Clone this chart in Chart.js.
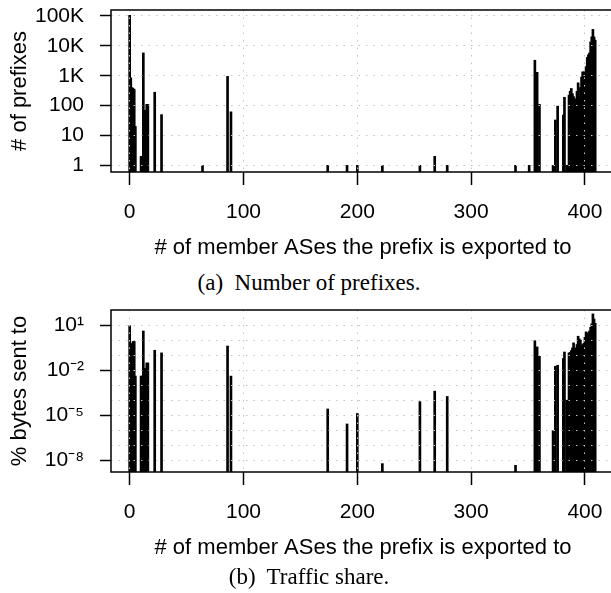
<!DOCTYPE html>
<html lang="en">
<head>
<meta charset="UTF-8">
<title>Prefix export and traffic share</title>
<script src="https://cdn.jsdelivr.net/npm/chart.js"></script>
<style>
  body { margin: 0; width: 611px; height: 593px; overflow: hidden; background: #fff; position: relative; }
  canvas { position: absolute; left: 0; }
  #prefixChart { top: 0; }
  #trafficChart { top: 300px; }
  .caption { position: absolute; left: 0; width: 618px; text-align: center;
             font-family: 'Liberation Serif', 'Times New Roman', serif; font-size: 23px; line-height: 26px; }
</style>
</head>
<body>
<canvas id="prefixChart" width="620" height="265"></canvas>
<div class="caption" style="top:270px">(a)&nbsp; Number of prefixes.</div>
<canvas id="trafficChart" width="620" height="265"></canvas>
<div class="caption" style="top:564px">(b)&nbsp; Traffic share.</div>
<script>
// number of member ASes a prefix is exported to
const exportedTo = [0, 1, 2, 3, 4, 5, 10, 11, 12, 13, 14, 15, 16, 22, 28, 64, 86, 89,
  174, 191, 200, 222, 255, 268, 279, 339, 351, 356, 358, 360, 372, 374, 376, 381, 382, 384,
  386, 387, 388, 389, 390, 391, 392, 393, 394, 395, 396, 397, 398, 399, 400, 401, 402, 403,
  404, 405, 406, 407, 408, 409];

// (a) number of prefixes
const prefixCounts = [105000, 850, 400, 380, 350, 20, 2, 2, 5800, 70, 70, 110, 110, 280, 50, 1, 950, 62,
  1, 1, 1, 1, 1, 2, 1, 1, 1, 3300, 1300, 110, 1, 33, 96, 48, 190, 1,
  224, 300, 375, 250, 200, 170, 160, 300, 580, 150, 405, 900, 1350, 1000, 1450, 2000, 4100, 5000,
  5800, 13600, 20000, 35500, 20000, 15500];

// (b) % of bytes sent to those prefixes (null = nothing drawn)
const trafficShare = [9, 0.5, 0.6, 0.8, 0.8, 0.004, 0.004, 0.004, 4, 0.013, 0.013, 0.03, 0.03, 0.21, 0.14, null, 0.4, 0.004,
  2.6e-5, 2.6e-6, 1.3e-5, 6e-9, 8e-5, 4e-4, 1.75e-4, 4.6e-9, null, 0.9, 0.35, 0.083, 9.3e-7, 0.018, 0.021, 0.059, 0.16, 1e-4,
  0.14, 0.15, 0.2, 0.3, 0.65, 0.3, 0.18, 0.5, 1.8, 1.2, 1.0, 0.4, 0.5, 0.6, 1.5, 3.5, 2.5, 3,
  4, 7, 12, 55, 25, 13];

const xTicks = [0, 100, 200, 300, 400];
const prefixTicks = [1, 10, 100, 1000, 10000, 100000];
const prefixLabels = ['1', '10', '100', '1K', '10K', '100K'];
const trafficTicks = [1e-8, 1e-7, 1e-6, 1e-5, 1e-4, 1e-3, 1e-2, 1e-1, 1, 10];
const trafficLabelled = { 1e-8: '10⁻⁸', 1e-5: '10⁻⁵', 1e-2: '10⁻²', 10: '10¹' };

const xTitle = '# of member ASes the prefix is exported to';
const gridColor = '#c4c4c4';

Chart.defaults.font.family = "'Liberation Sans', Arial, Helvetica, sans-serif";
Chart.defaults.font.size = 21;
Chart.defaults.color = '#000';

// black box round the plot region
const frame = {
  id: 'frame',
  afterDraw(chart) {
    const { ctx, chartArea: a } = chart;
    ctx.save();
    ctx.setLineDash([]);
    ctx.strokeStyle = '#000';
    ctx.lineWidth = 1.5;
    ctx.strokeRect(a.left, a.top, a.right - a.left, a.bottom - a.top);
    ctx.restore();
  }
};

function buildChart(id, values, yMin, yMax, yTicks, yLabel, yTitle) {
  const points = [];
  exportedTo.forEach((x, i) => {
    if (values[i] !== null) points.push({ x: x, y: values[i] });
  });

  return new Chart(document.getElementById(id), {
    type: 'bar',
    data: {
      datasets: [{ data: points, backgroundColor: '#000', borderWidth: 0, barThickness: 2 }]
    },
    options: {
      responsive: false,
      animation: false,
      layout: { padding: { top: 10, right: 5, left: 0, bottom: 0 } },
      plugins: { legend: { display: false }, tooltip: { enabled: false } },
      scales: {
        x: {
          type: 'linear',
          min: -16.4,
          max: 426.4,
          offset: false,
          afterBuildTicks: s => { s.ticks = xTicks.map(v => ({ value: v })); },
          afterFit: s => { s.height = 93; s.paddingLeft = 0; s.paddingRight = 0; },
          ticks: { padding: 15, maxRotation: 0, autoSkip: false },
          grid: { offset: false, z: 1, color: gridColor, lineWidth: 1, tickLength: 13, tickColor: '#000', tickWidth: 1.5 },
          border: { display: false, dash: [1.5, 6] },
          title: { display: true, text: xTitle, font: { size: 22 }, padding: { top: 0, bottom: 4 } }
        },
        y: {
          type: 'logarithmic',
          min: yMin,
          max: yMax,
          afterBuildTicks: s => { s.ticks = yTicks.map(v => ({ value: v })); },
          afterFit: s => { s.width = 111; s.paddingTop = 0; s.paddingBottom = 0; },
          ticks: { padding: 16, autoSkip: false, callback: v => yLabel(v) },
          grid: {
            offset: false, z: 1, color: gridColor, lineWidth: 1, tickLength: 11, tickWidth: 1.5,
            tickColor: ctx => (ctx.tick && yLabel(ctx.tick.value) !== '') ? '#000' : 'rgba(0,0,0,0)'
          },
          border: { display: false, dash: [1.5, 6] },
          title: { display: true, text: yTitle, font: { size: 22 }, padding: { top: 7, bottom: 0 } }
        }
      }
    },
    plugins: [frame]
  });
}

buildChart('prefixChart', prefixCounts, Math.pow(10, -0.2), Math.pow(10, 5.2), prefixTicks,
  v => { const i = prefixTicks.findIndex(t => Math.abs(Math.log10(t) - Math.log10(v)) < 1e-6); return i < 0 ? '' : prefixLabels[i]; },
  '# of prefixes');

buildChart('trafficChart', trafficShare, Math.pow(10, -8.78), Math.pow(10, 2.0), trafficTicks,
  v => {
    const key = Object.keys(trafficLabelled).find(k => Math.abs(Math.log10(Number(k)) - Math.log10(v)) < 1e-6);
    return key === undefined ? '' : trafficLabelled[key];
  },
  '% bytes sent to');
</script>
</body>
</html>
